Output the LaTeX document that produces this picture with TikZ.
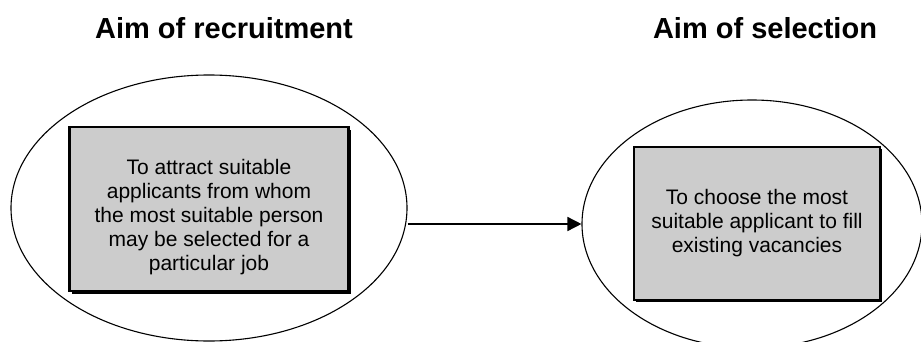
\documentclass[tikz,border=0pt]{standalone}
\usepackage{fontspec}
\setmainfont{Liberation Sans}
\usetikzlibrary{arrows.meta,shadows,shapes.geometric}
\definecolor{boxgray}{HTML}{CCCCCC}
\tikzset{
  oval/.style={draw=black, line width=1.1pt, ellipse, inner sep=0pt},
  aimbox/.style={draw=black, fill=boxgray, rectangle, inner sep=0pt},
  bodytext/.style={align=center, font=\fontsize{21pt}{24pt}\selectfont, inner sep=0pt},
  title/.style={font=\fontsize{29pt}{34pt}\selectfont\bfseries, anchor=base, inner sep=0pt},
  link/.style={line width=1.5pt, -{Triangle[length=14pt,width=14pt]}}
}
\begin{document}
\begin{tikzpicture}[x=1pt,y=1pt]
\useasboundingbox (0,0) rectangle (921,341);
\clip (0,0) rectangle (921,341);
\node[title] (t1) at (224,302) {Aim of recruitment};
\node[title] (t2) at (765,302) {Aim of selection};
\node[oval, minimum width=396pt, minimum height=266pt] (L) at (209,133) {};
\node[oval, minimum width=340pt, minimum height=248pt] (R) at (752,117) {};
\node[aimbox, line width=2.6pt, minimum width=279.5pt, minimum height=164pt,
  drop shadow={shadow xshift=2.5pt, shadow yshift=-2.5pt, fill=black, opacity=1}] (B1) at (209,132) {};
\node[bodytext] (T1) at ([yshift=-8pt]B1.center) {To attract suitable\\applicants from whom\\the most suitable person\\may be selected for a\\particular job};
\node[aimbox, line width=2pt, minimum width=246pt, minimum height=153pt,
  drop shadow={shadow xshift=1.5pt, shadow yshift=-1.5pt, fill=black, opacity=1},
  bodytext] (B2) at (757,117.5) {To choose the most\\suitable applicant to fill\\existing vacancies};
\draw[link] (L.east |- R.west) -- (R.west);
\end{tikzpicture}
\end{document}
